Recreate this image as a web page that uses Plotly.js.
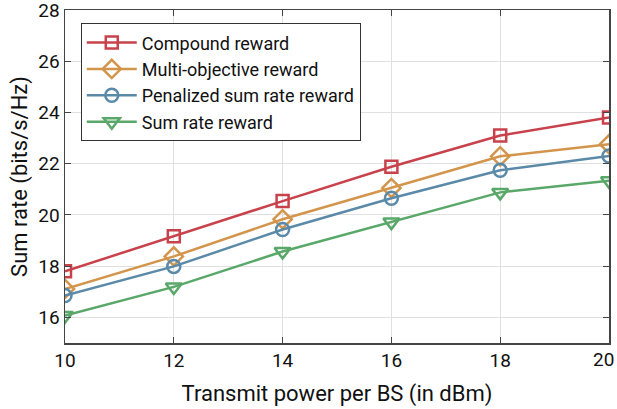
<!DOCTYPE html>
<html>
<head>
<meta charset="utf-8">
<script src="https://cdn.plot.ly/plotly-3.0.1.min.js"></script>
<style>html,body{margin:0;padding:0;background:#fff;}#chart{width:617px;height:409px;}</style>
</head>
<body>
<div id="chart"></div>
<script>
const power = [10, 12, 14, 16, 18, 20];
const compound = [17.8, 19.17, 20.54, 21.88, 23.1, 23.8];
const multiObjective = [17.11, 18.38, 19.83, 21.05, 22.29, 22.76];
const penalized = [16.85, 17.99, 19.43, 20.65, 21.74, 22.3];
const sumRate = [16.07, 17.19, 18.57, 19.72, 20.88, 21.33];
const names = ["Compound reward", "Multi-objective reward", "Penalized sum rate reward", "Sum rate reward"];
const xTicks = [10, 12, 14, 16, 18, 20];
const yTicks = [16, 18, 20, 22, 24, 26, 28];

const FONT = "Roboto, sans-serif";
const colors = ["#c8424c", "#d3954b", "#5b8aa9", "#59a86a"];
const symbols = ["square-open", "diamond-open", "circle-open", "triangle-down-open"];
const sizes = [12, 14, 13, 14];
const series = [compound, multiObjective, penalized, sumRate];

const traces = series.map((ys, i) => ({
  x: power, y: ys, name: names[i], type: "scatter", mode: "lines+markers",
  line: {color: colors[i], width: 2.5},
  marker: {symbol: symbols[i], size: sizes[i], color: colors[i], line: {color: colors[i], width: 2.5}}
}));

// last x tick label is drawn as an annotation nudged left so it stays inside the page
const lastX = xTicks[xTicks.length - 1];
const xTickText = xTicks.map((v, i) => i === xTicks.length - 1 ? "" : String(v));

const layout = {
  width: 617, height: 409,
  margin: {l: 65, r: 8, t: 10, b: 66},
  paper_bgcolor: "#fff", plot_bgcolor: "#fff",
  font: {family: FONT, size: 19, color: "#111"},
  showlegend: true,
  legend: {x: 0.029, y: 0.96, xanchor: "left", yanchor: "top", bgcolor: "#fff",
           bordercolor: "#333", borderwidth: 1, font: {family: FONT, size: 18, color: "#111"},
           tracegroupgap: 0, itemwidth: 50},
  xaxis: {range: [10, 20], tickvals: xTicks, ticktext: xTickText,
          showgrid: true, gridcolor: "#e0e0e0", gridwidth: 1, zeroline: false,
          showline: true, linecolor: "#444", linewidth: 1.5, mirror: "allticks",
          ticks: "inside", ticklen: 6, tickcolor: "#444", tickwidth: 1,
          ticklabeloverflow: "allow",
          tickfont: {family: FONT, size: 19, color: "#111"},
          title: {text: "Transmit power per BS (in dBm)", font: {family: FONT, size: 22, color: "#111"}, standoff: 14}},
  yaxis: {range: [15, 28], tickvals: yTicks, ticktext: yTicks.map(String),
          showgrid: true, gridcolor: "#e0e0e0", gridwidth: 1, zeroline: false,
          showline: true, linecolor: "#444", linewidth: 1.5, mirror: "allticks",
          ticks: "inside", ticklen: 6, tickcolor: "#444", tickwidth: 1,
          ticklabeloverflow: "allow",
          tickfont: {family: FONT, size: 19, color: "#111"},
          title: {text: "Sum rate (bits/s/Hz)", font: {family: FONT, size: 22, color: "#111"}, standoff: 4}},
  annotations: [{x: lastX, xref: "x", y: 0, yref: "paper", text: String(lastX), showarrow: false,
                 xanchor: "right", yanchor: "top", xshift: 7, yshift: -3,
                 font: {family: FONT, size: 19, color: "#111"}}]
};

Plotly.newPlot("chart", traces, layout, {displayModeBar: false, staticPlot: true});
</script>
</body>
</html>
